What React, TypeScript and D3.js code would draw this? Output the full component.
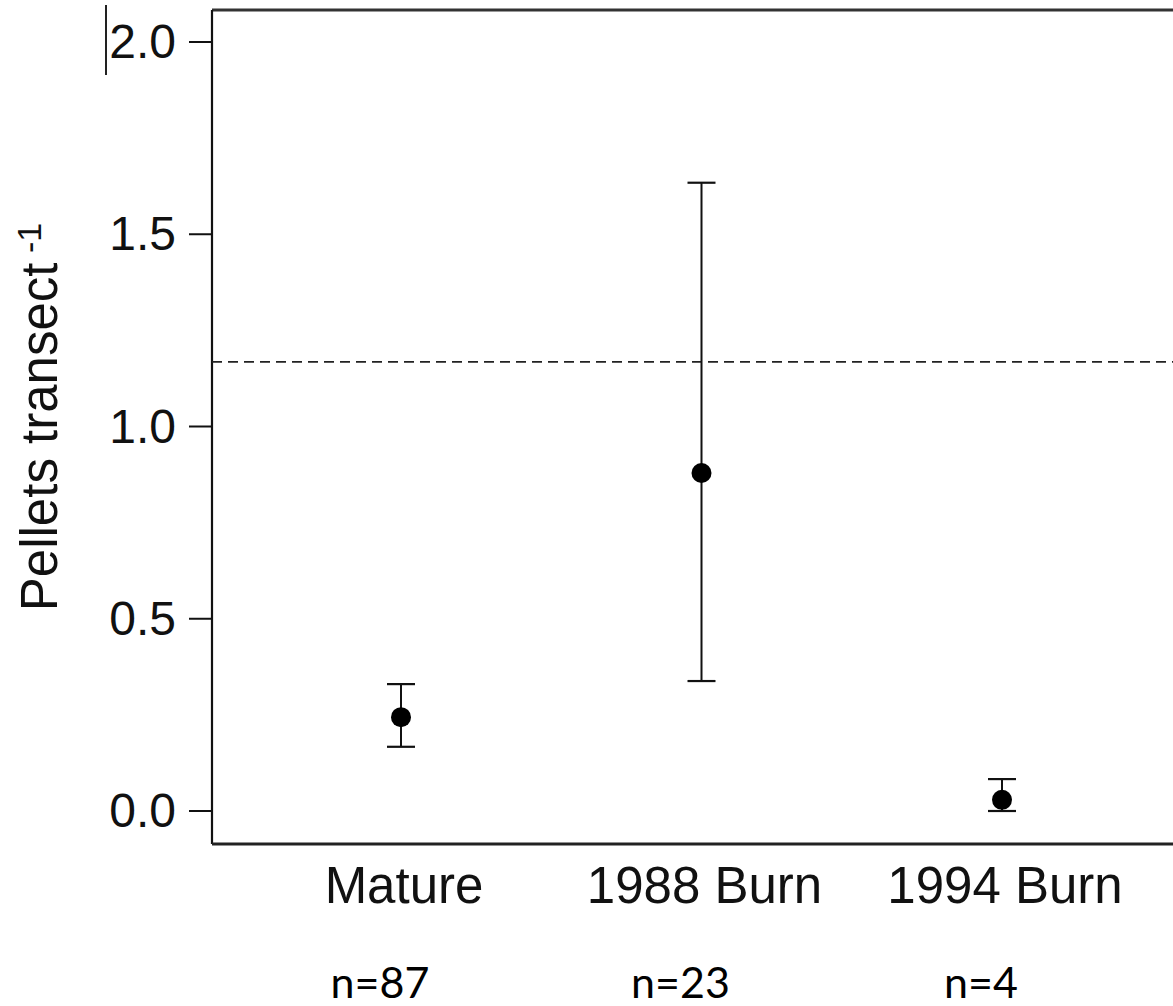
import React from "react";
import * as d3 from "d3";

const categories = ["Mature", "1988 Burn", "1994 Burn"];
const means = [0.244, 0.879, 0.029];
const upper = [0.33, 1.634, 0.083];
const lower = [0.167, 0.338, 0.0];
const sampleLabels = ["n=87", "n=23", "n=4"];
const yTicks = [0, 0.5, 1.0, 1.5, 2.0];
const referenceLine = 1.168;

const W = 1173;
const H = 1006;

export default function App() {
  const y = d3.scaleLinear().domain([0, 2]).range([811, 42]);
  const x = d3.scalePoint<string>().domain(categories).range([401, 1002]);
  const left = 212;
  const top = 10;
  const bottom = 844;
  const capHalf = 14;
  const font = "'Liberation Sans', Arial, sans-serif";

  return (
    <svg
      width={W}
      height={H}
      style={{ position: "absolute", left: 0, top: 0, background: "#fff" }}
    >
      <rect x={0} y={0} width={W} height={H} fill="#fff" />
      {/* plot frame */}
      <line x1={left} y1={top} x2={W + 10} y2={top} stroke="#333" strokeWidth={3} />
      <line x1={left} y1={top} x2={left} y2={bottom} stroke="#111" strokeWidth={2.2} />
      <line x1={left} y1={bottom} x2={W + 10} y2={bottom} stroke="#222" strokeWidth={3} />

      {/* cursor artifact */}
      <line x1={106} y1={5} x2={106} y2={75} stroke="#222" strokeWidth={2} />

      {/* y ticks */}
      {yTicks.map((t) => (
        <g key={t}>
          <line x1={189} x2={left} y1={y(t)} y2={y(t)} stroke="#111" strokeWidth={2} />
          <text
            x={176}
            y={y(t) + 16}
            textAnchor="end"
            fontFamily={font}
            fontSize={48}
            fill="#111"
          >
            {d3.format(".1f")(t)}
          </text>
        </g>
      ))}

      {/* y label */}
      <text
        transform="translate(57,417) rotate(-90)"
        textAnchor="middle"
        fontFamily={font}
        fontSize={51}
        fill="#111"
      >
        Pellets transect
        <tspan fontSize={34} dy={-16}>
          {" -1"}
        </tspan>
      </text>

      {/* dashed reference */}
      <line
        x1={left}
        x2={W}
        y1={y(referenceLine)}
        y2={y(referenceLine)}
        stroke="#222"
        strokeWidth={1.8}
        strokeDasharray="10,6"
      />

      {/* error bars and points */}
      {categories.map((c, i) => {
        const cx = x(c)!;
        return (
          <g key={c}>
            <line x1={cx} x2={cx} y1={y(upper[i])} y2={y(lower[i])} stroke="#111" strokeWidth={2} />
            <line x1={cx - capHalf} x2={cx + capHalf} y1={y(upper[i])} y2={y(upper[i])} stroke="#111" strokeWidth={2.2} />
            <line x1={cx - capHalf} x2={cx + capHalf} y1={y(lower[i])} y2={y(lower[i])} stroke="#111" strokeWidth={2.2} />
            <circle cx={cx} cy={y(means[i])} r={10} fill="#000" />
          </g>
        );
      })}

      {/* category labels */}
      {categories.map((c) => (
        <text
          key={c}
          x={x(c)! + 3}
          y={903}
          textAnchor="middle"
          fontFamily={font}
          fontSize={51}
          fill="#111"
        >
          {c}
        </text>
      ))}

      {/* sample sizes */}
      {categories.map((c, i) => (
        <text
          key={c + "n"}
          x={x(c)! - 21}
          y={998}
          textAnchor="middle"
          fontFamily="Lato, 'Open Sans', sans-serif"
          fontSize={43}
          fill="#000"
        >
          {sampleLabels[i]}
        </text>
      ))}
    </svg>
  );
}
